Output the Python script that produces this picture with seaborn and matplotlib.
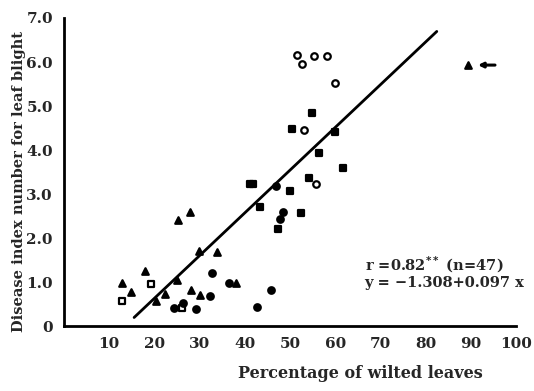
import numpy as np
import pandas as pd
import matplotlib
matplotlib.use("Agg")
import matplotlib.pyplot as plt
import seaborn as sns

sns.set_style("white")
plt.rcParams["font.family"] = ["DejaVu Serif"]
plt.rcParams["font.weight"] = "bold"

# data, one list pair per marker group
open_sq_x = [12.8, 19.2, 26.0]
open_sq_y = [0.57, 0.95, 0.41]

tri_x = [12.8, 14.8, 17.9, 20.3, 22.3, 24.9, 25.2, 27.8, 28.0, 29.8, 30.0, 33.8, 38.0, 89.4]
tri_y = [0.98, 0.78, 1.25, 0.57, 0.73, 1.05, 2.41, 2.59, 0.82, 1.70, 0.70, 1.68, 0.98, 5.93]

fill_circ_x = [24.3, 26.3, 29.3, 32.2, 32.8, 36.5, 42.8, 45.8, 46.9, 48.4, 47.7]
fill_circ_y = [0.41, 0.52, 0.38, 0.68, 1.20, 0.98, 0.44, 0.82, 3.19, 2.60, 2.43]

fill_sq_x = [41.1, 41.9, 43.4, 49.9, 47.3, 52.5, 54.3, 54.9, 50.5, 60.0, 56.4, 61.7]
fill_sq_y = [3.23, 3.23, 2.71, 3.08, 2.20, 2.58, 3.36, 4.83, 4.47, 4.42, 3.93, 3.60]

open_circ_x = [55.8, 51.5, 52.7, 55.3, 58.1, 59.9, 53.0]
open_circ_y = [3.23, 6.17, 5.95, 6.14, 6.14, 5.52, 4.45]

# regression from the figure text
intercept = -1.308
slope = 0.097
line_x = np.array([15.5, 82.5])

x_ticks = [10, 20, 30, 40, 50, 60, 70, 80, 90, 100]
y_ticks = [0, 1, 2, 3, 4, 5, 6, 7]
y_tick_labels = ["0", "1.0", "2.0", "3.0", "4.0", "5.0", "6.0", "7.0"]

fig = plt.figure(figsize=(5.34, 3.91), dpi=100)
ax = fig.add_axes([0.12, 0.166, 0.846, 0.788])

groups = [
    (open_sq_x, open_sq_y, "s", "white"),
    (tri_x, tri_y, "^", "black"),
    (fill_circ_x, fill_circ_y, "o", "black"),
    (fill_sq_x, fill_sq_y, "s", "black"),
    (open_circ_x, open_circ_y, "o", "white"),
]
for gx, gy, mk, fc in groups:
    df = pd.DataFrame({"x": gx, "y": gy})
    sns.scatterplot(data=df, x="x", y="y", marker=mk, s=22, facecolor=fc,
                    edgecolor="black", linewidth=1.6, ax=ax, zorder=3)

sns.lineplot(x=line_x, y=intercept + slope * line_x, color="black", lw=2, ax=ax)

# arrow pointing at the outlier
ax.annotate("", xy=(91.0, tri_y[-1]), xytext=(96.0, tri_y[-1]),
            arrowprops=dict(arrowstyle="-|>", lw=2.2, color="black", mutation_scale=7))

ax.text(66.5, 1.39, r"r =0.82$^{**}$ (n=47)", fontsize=10.5, fontweight="bold", va="center")
ax.text(66.5, 0.98, "y = \u22121.308+0.097 x", fontsize=10.5, fontweight="bold", va="center")

ax.set_xlim(0, 100)
ax.set_ylim(0, 7)
ax.set_xticks(x_ticks)
ax.set_yticks(y_ticks)
ax.set_yticklabels(y_tick_labels)
ax.tick_params(axis="both", direction="out", length=5, width=1.8, labelsize=11, pad=3)
for lab in ax.get_xticklabels() + ax.get_yticklabels():
    lab.set_fontweight("bold")

for side in ["top", "right"]:
    ax.spines[side].set_visible(False)
for side in ["left", "bottom"]:
    ax.spines[side].set_linewidth(2)
    ax.spines[side].set_color("black")

ax.set_xlabel("Percentage of wilted leaves", fontsize=11.5, fontweight="bold")
ax.set_ylabel("Disease index number for leaf blight", fontsize=10.5, fontweight="bold")
ax.xaxis.set_label_coords(0.655, -0.125)
ax.yaxis.set_label_coords(-0.084, 0.47)

fig.savefig("out.png", dpi=100)
